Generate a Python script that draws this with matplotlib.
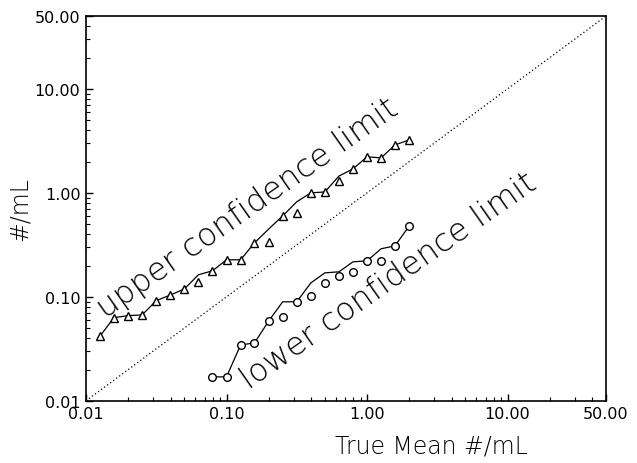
import matplotlib
matplotlib.use("Agg")
import matplotlib.pyplot as plt
from matplotlib.ticker import FixedLocator, FormatStrFormatter, LogLocator, NullFormatter

# True mean concentrations (#/mL) at which the limits were evaluated
true_mean_upper = [0.0126, 0.0158, 0.0200, 0.0251, 0.0316, 0.0398, 0.0501, 0.0631,
                   0.0794, 0.100, 0.126, 0.158, 0.200, 0.251, 0.316, 0.398, 0.501,
                   0.631, 0.794, 1.00, 1.26, 1.58, 2.00]
upper_points = [0.042, 0.063, 0.066, 0.067, 0.092, 0.104, 0.119, 0.139, 0.178, 0.227,
                0.227, 0.330, 0.338, 0.60, 0.642, 1.00, 1.02, 1.30, 1.70, 2.22,
                2.17, 2.89, 3.23]
upper_curve = [0.042, 0.063, 0.066, 0.067, 0.092, 0.104, 0.119, 0.163, 0.178, 0.227,
               0.227, 0.330, 0.45, 0.60, 0.82, 1.00, 1.02, 1.45, 1.70, 2.22,
               2.17, 2.89, 3.23]

true_mean_lower = [0.0794, 0.100, 0.126, 0.158, 0.200, 0.251, 0.316, 0.398, 0.501,
                   0.631, 0.794, 1.00, 1.26, 1.58, 2.00]
lower_points = [0.017, 0.017, 0.0345, 0.036, 0.0588, 0.064, 0.0896, 0.102, 0.136,
                0.159, 0.174, 0.222, 0.222, 0.309, 0.482]
lower_curve = [0.017, 0.017, 0.0345, 0.036, 0.0588, 0.0896, 0.0896, 0.136, 0.170,
               0.174, 0.217, 0.222, 0.290, 0.309, 0.482]

axis_limits = [0.01, 50.0]
tick_values = [0.01, 0.1, 1.0, 10.0, 50.0]

fig = plt.figure(figsize=(6.37, 4.64), dpi=100)
ax = fig.add_axes([0.135, 0.134, 0.816, 0.829])

ax.set_xscale("log")
ax.set_yscale("log")
ax.set_xlim(axis_limits)
ax.set_ylim(axis_limits)

# one-to-one reference line
ax.plot(axis_limits, axis_limits, color="black", lw=0.9, ls=(0, (1, 2)))

ax.plot(true_mean_upper, upper_curve, color="black", lw=0.9, zorder=2)
ax.plot(true_mean_upper, upper_points, ls="none", marker="^", ms=6,
        mfc="white", mec="black", mew=1.0, zorder=3)

ax.plot(true_mean_lower, lower_curve, color="black", lw=0.9, zorder=2)
ax.plot(true_mean_lower, lower_points, ls="none", marker="o", ms=5.5,
        mfc="white", mec="black", mew=1.0, zorder=3)

curve_label = dict(family="DejaVu Sans", fontweight="ultralight", fontsize=23,
                   rotation=35, rotation_mode="anchor", ha="center", va="center",
                   color="black")
ax.text(0.312, 0.503, "upper confidence limit", transform=ax.transAxes, **curve_label)
ax.text(0.582, 0.314, "lower confidence limit", transform=ax.transAxes, **curve_label)

for axis in (ax.xaxis, ax.yaxis):
    axis.set_major_locator(FixedLocator(tick_values))
    axis.set_major_formatter(FormatStrFormatter("%.2f"))
    axis.set_minor_locator(LogLocator(base=10, subs=range(2, 10), numticks=20))
    axis.set_minor_formatter(NullFormatter())

ax.tick_params(which="major", direction="in", length=5, width=1.0,
               labelsize=11.5, pad=4)
ax.tick_params(which="minor", direction="in", length=3, width=0.8)
for s in ax.spines.values():
    s.set_linewidth(1.2)

ax.set_xlabel("True Mean #/mL", fontsize=17, fontweight="ultralight")
ax.set_ylabel("#/mL", fontsize=17, fontweight="ultralight")
ax.xaxis.set_label_coords(0.665, -0.085)
ax.yaxis.set_label_coords(-0.104, 0.5)

fig.savefig("out.png", dpi=100)
